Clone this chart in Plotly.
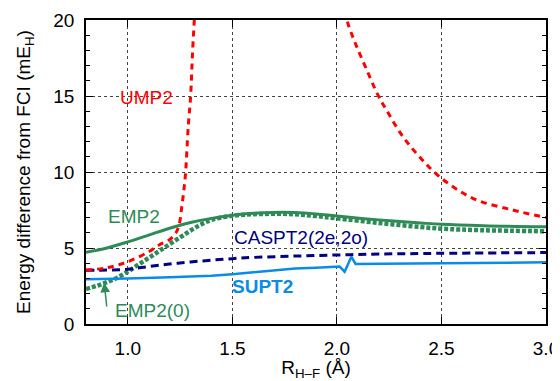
import plotly.graph_objects as go

# ---- data ----
ump2_x = [0.8, 0.9, 1.0, 1.1, 1.15, 1.2, 1.23, 1.245, 1.257, 1.268, 1.276, 1.289, 1.30, 1.31, 1.318, 1.322,
          None,
          2.04, 2.05, 2.085, 2.137, 2.196, 2.236, 2.312, 2.395, 2.49, 2.65, 2.84, 3.0]
ump2_y = [3.55, 3.7, 4.1, 4.75, 5.2, 5.55, 6.0, 6.5, 7.6, 8.8, 9.9, 13.0, 14.9, 18.0, 20.0, 21.0,
          None,
          20.6, 19.9, 18.57, 16.9, 15.07, 14.1, 12.4, 11.0, 9.7, 8.27, 7.5, 7.0]

emp2_x = [0.8, 0.9, 1.0, 1.1, 1.2, 1.25, 1.3, 1.4, 1.5, 1.6, 1.7, 1.8, 1.9, 2.0, 2.2, 2.4, 2.5, 2.7, 3.0]
emp2_y = [4.72, 5.0, 5.4, 5.85, 6.3, 6.5, 6.68, 6.95, 7.15, 7.28, 7.34, 7.33, 7.24, 7.1, 6.85, 6.65, 6.56, 6.47, 6.4]

emp20_x = [0.8, 0.85, 0.9, 0.95, 1.0, 1.05, 1.1, 1.15, 1.2, 1.25, 1.3, 1.35, 1.4, 1.5, 1.6, 1.7, 1.8, 1.9,
           2.0, 2.2, 2.4, 2.5, 2.7, 3.0]
emp20_y = [2.3, 2.5, 2.75, 3.05, 3.45, 3.9, 4.35, 4.8, 5.25, 5.7, 6.15, 6.55, 6.85, 7.12, 7.22, 7.25, 7.22, 7.1,
           6.95, 6.65, 6.38, 6.27, 6.17, 6.1]

caspt2_x = [0.8, 0.9, 1.0, 1.1, 1.2, 1.3, 1.4, 1.5, 1.6, 1.8, 2.0, 2.2, 2.5, 3.0]
caspt2_y = [3.53, 3.55, 3.6, 3.78, 3.95, 4.08, 4.2, 4.3, 4.38, 4.47, 4.54, 4.6, 4.65, 4.7]

supt2_x = [0.8, 0.9, 1.0, 1.2, 1.4, 1.5, 1.6, 1.7, 1.8, 1.9, 2.0, 2.013, 2.037, 2.069, 2.089, 2.2, 2.5, 3.0]
supt2_y = [2.95, 2.97, 3.0, 3.08, 3.18, 3.28, 3.4, 3.55, 3.65, 3.7, 3.74, 3.78, 3.44, 4.43, 3.95, 3.95, 3.99, 4.06]

x_ticks = [1.0, 1.5, 2.0, 2.5, 3.0]
x_ticklabels = ["1.0", "1.5", "2.0", "2.5", "3.0"]
y_ticks = [0, 5, 10, 15, 20]

RED = "#ff0000"
GREEN = "#2e8b57"
NAVY = "#000080"
BLUE = "#0a8ce6"
FONT = "Liberation Sans, Arial, sans-serif"

fig = go.Figure()
fig.add_trace(go.Scatter(x=emp2_x, y=emp2_y, mode="lines", line=dict(color=GREEN, width=3, shape="spline")))
fig.add_trace(go.Scatter(x=emp20_x, y=emp20_y, mode="lines", line=dict(color=GREEN, width=4.5, dash="4px,2px", shape="spline")))
fig.add_trace(go.Scatter(x=caspt2_x, y=caspt2_y, mode="lines", line=dict(color=NAVY, width=3, dash="8px,5px", shape="spline")))
fig.add_trace(go.Scatter(x=supt2_x, y=supt2_y, mode="lines", line=dict(color=BLUE, width=2.5)))
fig.add_trace(go.Scatter(x=ump2_x, y=ump2_y, mode="lines", connectgaps=False,
                         line=dict(color=RED, width=3, dash="6px,5px", shape="spline")))

def label(text, x, y, color, bold=False):
    fig.add_annotation(x=x, y=y, xref="x", yref="y", text=("<b>%s</b>" % text) if bold else text,
                       showarrow=False, xanchor="left", yanchor="middle",
                       font=dict(family=FONT, size=19, color=color))

label("UMP2", 0.953, 14.93, RED)
label("EMP2", 0.898, 7.04, GREEN)
label("CASPT2(2e,2o)", 1.496, 5.69, NAVY)
label("SUPT2", 1.49, 2.5, BLUE, bold=True)
label("EMP2(0)", 0.927, 0.92, GREEN)
fig.add_annotation(x=0.887, y=2.72, ax=0.9, ay=1.05, xref="x", yref="y", axref="x", ayref="y",
                   text="", showarrow=True, arrowhead=2, arrowsize=1.3, arrowwidth=1.5, arrowcolor=GREEN)

axis_common = dict(showline=True, linecolor="black", linewidth=1.5, mirror="ticks",
                   ticks="inside", ticklen=7, tickwidth=1, tickcolor="black",
                   showgrid=True, gridcolor="#444444", griddash="dot", gridwidth=1,
                   zeroline=False, tickfont=dict(family=FONT, size=19, color="black"))

fig.update_xaxes(range=[0.8, 3.0], tickvals=x_ticks, ticktext=x_ticklabels,
                 ticklabelstandoff=6,
                 title=dict(text="R<sub>H\u2013F</sub> (\u00c5)", font=dict(family=FONT, size=19, color="black"),
                            standoff=4),
                 **axis_common)
fig.update_yaxes(range=[0, 20], tickvals=y_ticks, ticklabelstandoff=6,
                 minor=dict(ticks="inside", ticklen=4, dtick=1, tickcolor="black", showgrid=False),
                 title=dict(text="Energy difference from FCI (mE<sub>H</sub>)",
                            font=dict(family=FONT, size=19, color="black"), standoff=18),
                 **axis_common)

# the page body adds an 8px margin, so the figure is 8px smaller and shifted accordingly
fig.update_layout(width=552, height=373, margin=dict(l=78, r=14, t=12, b=57, autoexpand=False),
                  paper_bgcolor="white", plot_bgcolor="white", showlegend=False,
                  font=dict(family=FONT, size=19, color="black"))

fig.write_html("out.html")
